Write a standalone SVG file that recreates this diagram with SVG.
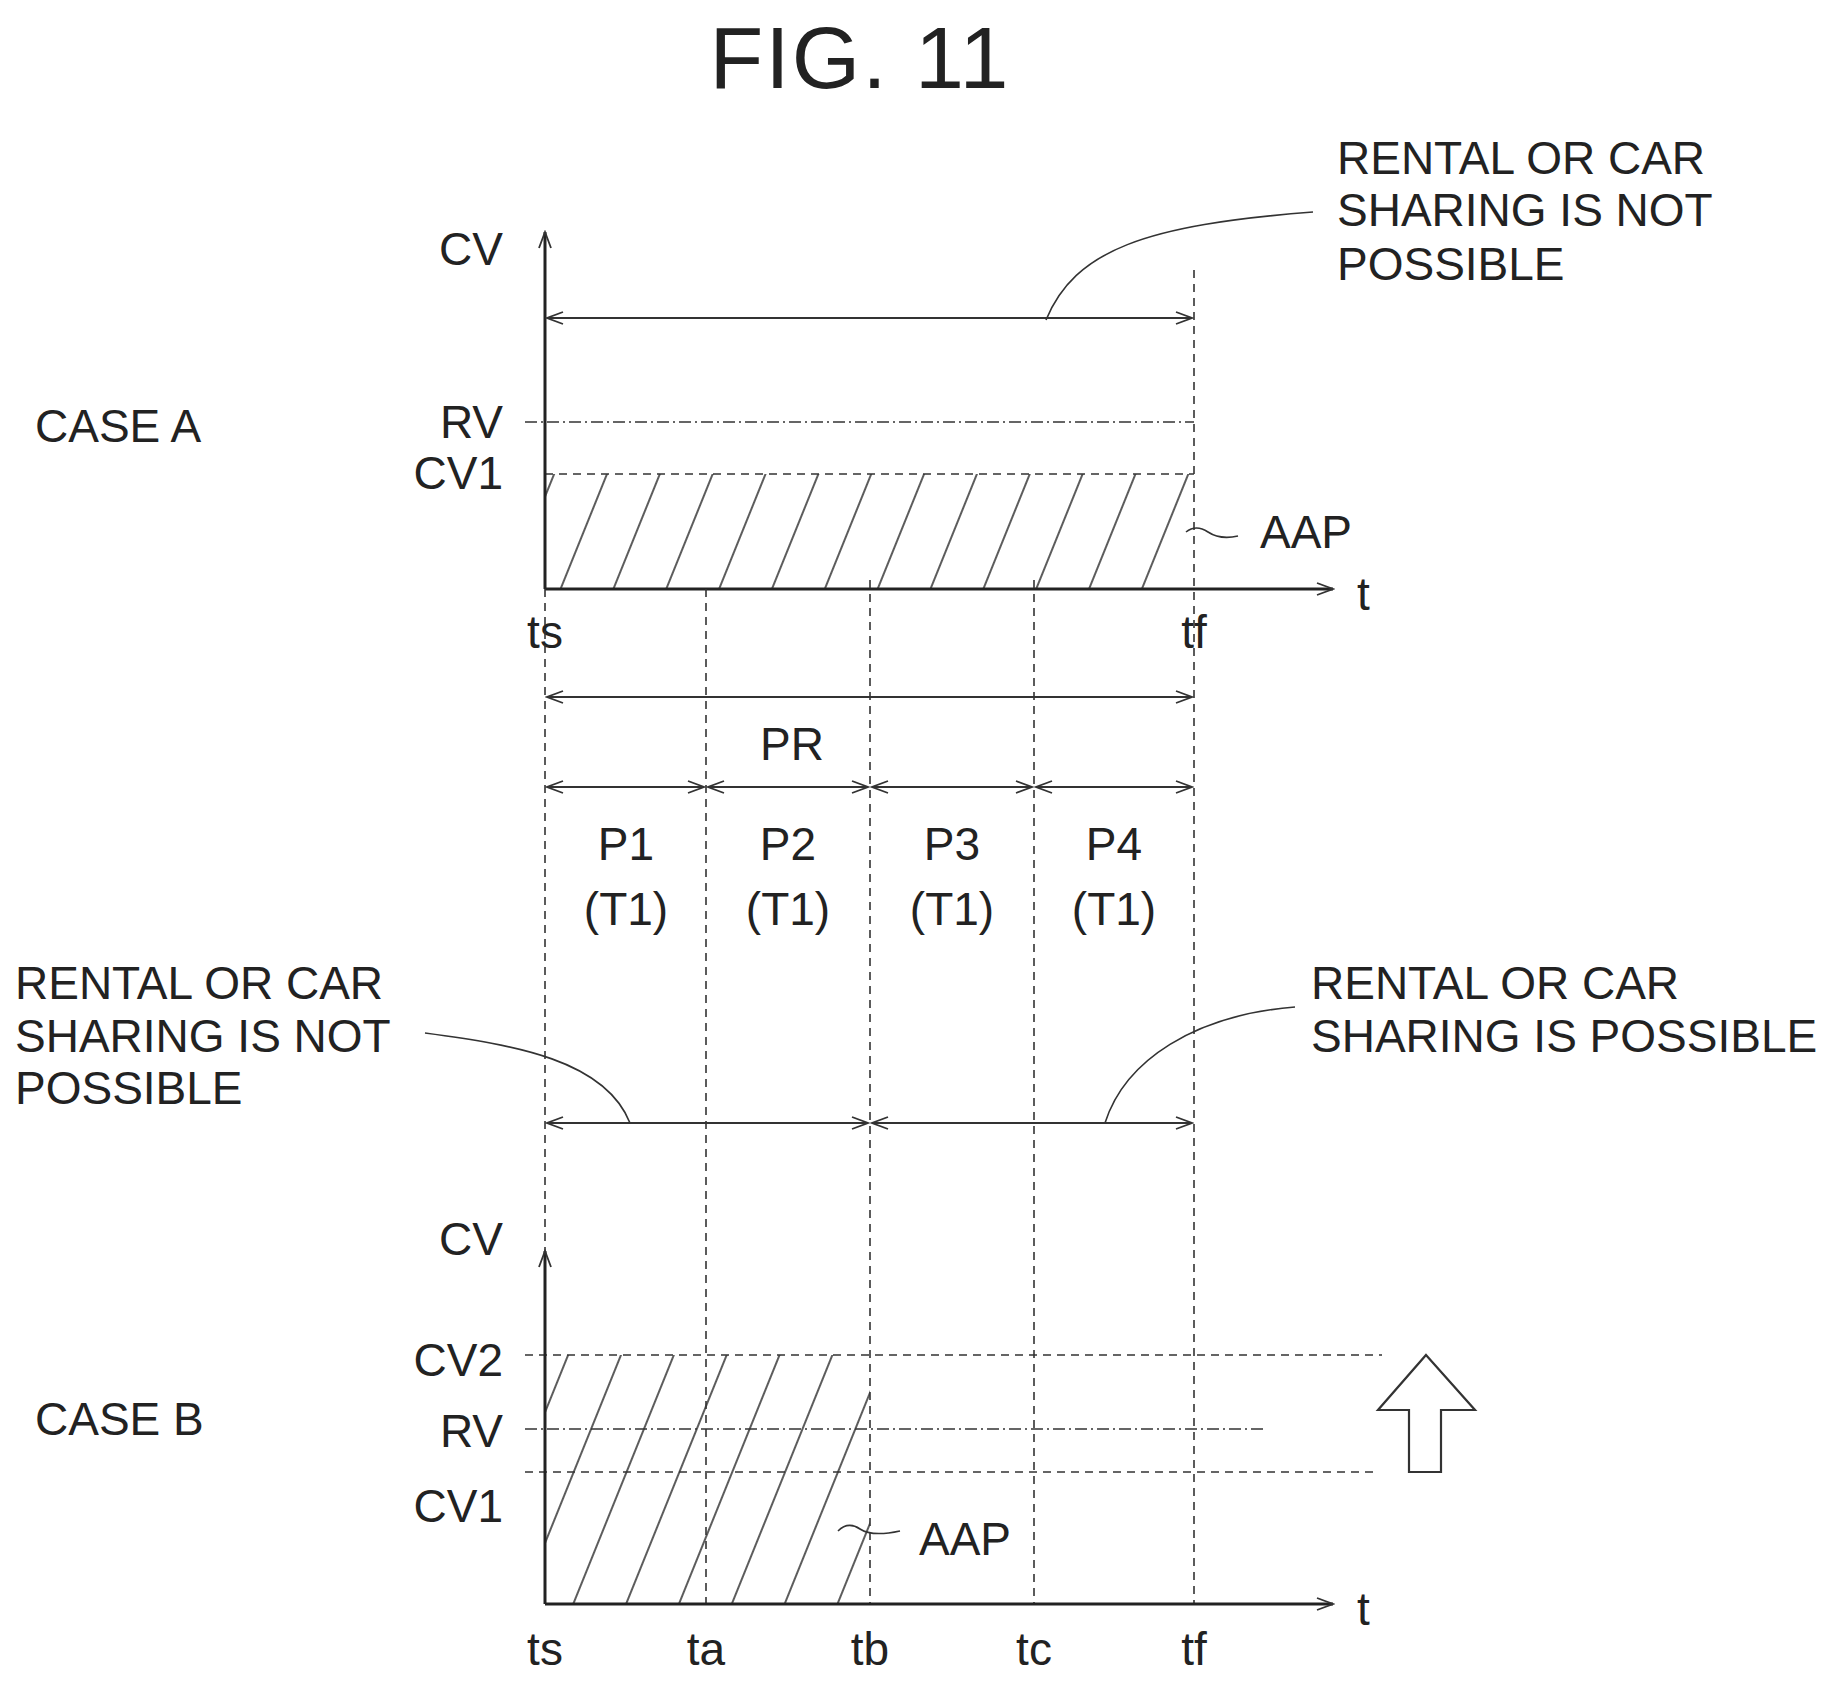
<svg xmlns="http://www.w3.org/2000/svg" width="1844" height="1688" viewBox="0 0 1844 1688">
<style>
text{font-family:"Liberation Sans",Arial,sans-serif;fill:#222;font-size:46px}
.ax{stroke:#222;stroke-width:3;fill:none}
.ln{stroke:#333;stroke-width:2;fill:none}
.dd{stroke:#333;stroke-width:1.6;fill:none;stroke-dasharray:8,6}
.dc{stroke:#333;stroke-width:1.6;fill:none;stroke-dasharray:12,4,2,4}
.lead{stroke:#333;stroke-width:1.6;fill:none}
</style>
<defs>
<marker id="ah" markerWidth="20" markerHeight="16" refX="18" refY="8" orient="auto-start-reverse" markerUnits="userSpaceOnUse"><path d="M2,2 L18,8 L2,14" fill="none" stroke="#333" stroke-width="1.8"/></marker>
<pattern id="hatch" patternUnits="userSpaceOnUse" width="49" height="20" patternTransform="rotate(22)"><line x1="10" y1="0" x2="10" y2="20" stroke="#333" stroke-width="1.6"/></pattern>
</defs>
<text x="860" y="88" text-anchor="middle" style="font-size:88px;letter-spacing:2px">FIG. 11</text>
<g transform="translate(-5,0)">
<g id="caseA">
<text x="40" y="442">CASE A</text>
<rect x="550" y="474" width="649" height="115" fill="url(#hatch)"/>
<line class="dc" x1="530" y1="422" x2="1199" y2="422"/>
<line class="dd" x1="550" y1="474" x2="1199" y2="474"/>
<line class="ax" x1="550" y1="589" x2="550" y2="232" marker-end="url(#ah)"/>
<line class="ax" x1="550" y1="589" x2="1338" y2="589" marker-end="url(#ah)"/>
<line class="ln" x1="552" y1="318" x2="1197" y2="318" marker-start="url(#ah)" marker-end="url(#ah)"/>
<text x="508" y="265" text-anchor="end">CV</text>
<text x="508" y="438" text-anchor="end">RV</text>
<text x="508" y="489" text-anchor="end">CV1</text>
<text x="1362" y="610">t</text>
<text x="550" y="648" text-anchor="middle">ts</text>
<text x="1199" y="648" text-anchor="middle">tf</text>
<text x="1265" y="548">AAP</text>
<path class="lead" d="M1191,532 q10,-8 22,0 t30,4"/>
<text x="1342" y="174">RENTAL OR CAR</text>
<text x="1342" y="226">SHARING IS NOT</text>
<text x="1342" y="280">POSSIBLE</text>
<path class="lead" d="M1051,320 C1080,250 1150,225 1318,212"/>
</g>
<g id="grid">
<line class="dd" x1="550" y1="589" x2="550" y2="1604"/>
<line class="dd" x1="711" y1="589" x2="711" y2="1604"/>
<line class="dd" x1="875" y1="580" x2="875" y2="1604"/>
<line class="dd" x1="1039" y1="580" x2="1039" y2="1604"/>
<line class="dd" x1="1199" y1="270" x2="1199" y2="1604"/>
</g>
<g id="periods">
<line class="ln" x1="552" y1="697" x2="1197" y2="697" marker-start="url(#ah)" marker-end="url(#ah)"/>
<text x="797" y="760" text-anchor="middle">PR</text>
<line class="ln" x1="552" y1="787" x2="709" y2="787" marker-start="url(#ah)" marker-end="url(#ah)"/>
<line class="ln" x1="713" y1="787" x2="873" y2="787" marker-start="url(#ah)" marker-end="url(#ah)"/>
<line class="ln" x1="877" y1="787" x2="1037" y2="787" marker-start="url(#ah)" marker-end="url(#ah)"/>
<line class="ln" x1="1041" y1="787" x2="1197" y2="787" marker-start="url(#ah)" marker-end="url(#ah)"/>
<text x="631" y="860" text-anchor="middle">P1</text>
<text x="793" y="860" text-anchor="middle">P2</text>
<text x="957" y="860" text-anchor="middle">P3</text>
<text x="1119" y="860" text-anchor="middle">P4</text>
<text x="631" y="925" text-anchor="middle">(T1)</text>
<text x="793" y="925" text-anchor="middle">(T1)</text>
<text x="957" y="925" text-anchor="middle">(T1)</text>
<text x="1119" y="925" text-anchor="middle">(T1)</text>
</g>
<g id="availability">
<line class="ln" x1="552" y1="1123" x2="873" y2="1123" marker-start="url(#ah)" marker-end="url(#ah)"/>
<line class="ln" x1="877" y1="1123" x2="1197" y2="1123" marker-start="url(#ah)" marker-end="url(#ah)"/>
<text x="20" y="999">RENTAL OR CAR</text>
<text x="20" y="1052">SHARING IS NOT</text>
<text x="20" y="1104">POSSIBLE</text>
<path class="lead" d="M430,1033 C520,1045 610,1060 635,1123"/>
<text x="1316" y="999">RENTAL OR CAR</text>
<text x="1316" y="1052">SHARING IS POSSIBLE</text>
<path class="lead" d="M1110,1123 C1130,1060 1200,1015 1300,1007"/>
</g>
<g id="caseB">
<text x="40" y="1435">CASE B</text>
<rect x="550" y="1355" width="325" height="249" fill="url(#hatch)"/>
<line class="dd" x1="530" y1="1355" x2="1387" y2="1355"/>
<line class="dc" x1="530" y1="1429" x2="1268" y2="1429"/>
<line class="dd" x1="530" y1="1472" x2="1380" y2="1472"/>
<line class="ax" x1="550" y1="1604" x2="550" y2="1251" marker-end="url(#ah)"/>
<line class="ax" x1="550" y1="1604" x2="1338" y2="1604" marker-end="url(#ah)"/>
<text x="508" y="1255" text-anchor="end">CV</text>
<text x="508" y="1376" text-anchor="end">CV2</text>
<text x="508" y="1447" text-anchor="end">RV</text>
<text x="508" y="1522" text-anchor="end">CV1</text>
<text x="1362" y="1625">t</text>
<text x="550" y="1665" text-anchor="middle">ts</text>
<text x="711" y="1665" text-anchor="middle">ta</text>
<text x="875" y="1665" text-anchor="middle">tb</text>
<text x="1039" y="1665" text-anchor="middle">tc</text>
<text x="1199" y="1665" text-anchor="middle">tf</text>
<text x="924" y="1555">AAP</text>
<path class="lead" d="M843,1531 q10,-10 22,-2 t40,2"/>
<path d="M1431,1355 L1480,1410 L1446,1410 L1446,1472 L1414,1472 L1414,1410 L1383,1410 Z" fill="#fff" stroke="#333" stroke-width="2.2"/>
</g>
</g>
</svg>
